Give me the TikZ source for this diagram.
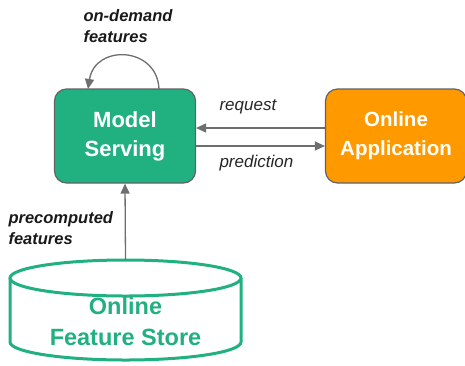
\documentclass[tikz,border=0pt]{standalone}
\usepackage{fontspec}
\setmainfont{Liberation Sans}
\usetikzlibrary{arrows.meta}
\definecolor{msgreen}{RGB}{33,176,128}
\definecolor{apporange}{RGB}{255,153,0}
\definecolor{edgegray}{RGB}{95,99,104}
\definecolor{arrowgray}{RGB}{110,110,110}
\tikzset{
  box/.style={draw=edgegray, line width=1.2pt, rounded corners=12pt, minimum width=141pt, minimum height=94pt, align=center, text=white, font=\fontsize{22}{29}\selectfont\bfseries},
  conn/.style={draw=arrowgray, line width=1.3pt, -{Triangle[length=10pt,width=9pt]}},
  lab/.style={font=\fontsize{17}{21}\selectfont\itshape, text=black!85, align=left},
  blab/.style={font=\fontsize{16.5}{21}\selectfont\bfseries\itshape, text=black!90, align=left},
  store/.style={draw=msgreen, line width=3pt, fill=white}
}
\begin{document}
\begin{tikzpicture}[x=1pt,y=-1pt]
\useasboundingbox (0,0) rectangle (465,365);
\node[box, fill=msgreen] (ms) at (125,136) {Model\\Serving};
\node[box, fill=apporange, font=\fontsize{20.5}{29}\selectfont\bfseries] (app) at (396,136) {Online\\Application};
% cylinder
\draw[store] (10,278) -- (10,342) arc[start angle=180, end angle=0, x radius=115.5, y radius=18] -- (241,278);
\draw[store] (125.5,278) ellipse [x radius=115.5, y radius=18];
\coordinate (storetop) at (125.5,260);
\node[font=\fontsize{23.5}{31}\selectfont\bfseries, text=msgreen, align=center] (store) at (125.5,322) {Online\\Feature Store};
% connectors
\draw[conn] (app.west |- 0,128) -- (ms.east |- 0,128);
\draw[conn] (ms.east |- 0,146) -- (app.west |- 0,146);
\draw[conn] (storetop) -- (ms.south);
\coordinate (loopstart) at (159,89);
\coordinate (loopend) at (88,89);
\draw[conn] (loopstart) .. controls (157,46) and (95,44) .. (loopend);
% labels
\node[lab, anchor=west] (lreq) at (216,107) {request};
\node[lab, anchor=west] (lpred) at (216,163) {prediction};
\node[blab, anchor=west] (lod) at (80,26) {on-demand\\features};
\node[blab, anchor=west] (lpre) at (5,228) {precomputed\\features};
\end{tikzpicture}
\end{document}
